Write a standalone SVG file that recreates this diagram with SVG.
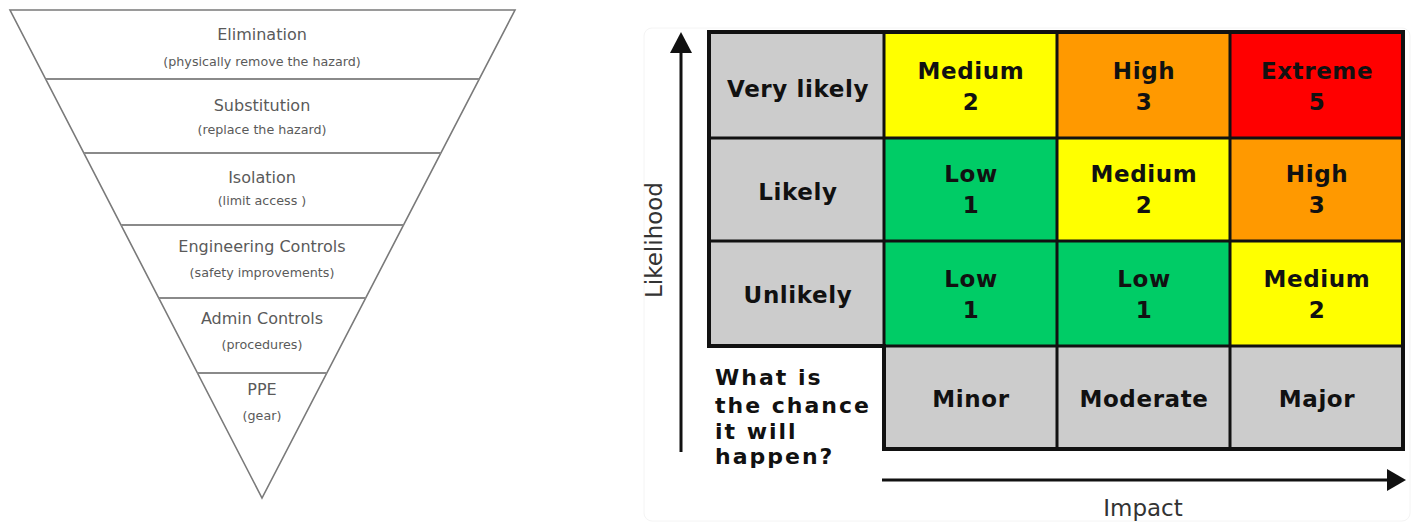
<svg xmlns="http://www.w3.org/2000/svg" width="1412" height="523" viewBox="0 0 1412 523">
<style>
.pl{fill:none;stroke:#7a7a7a;stroke-width:1.6}
.pd{stroke:#8a8a8a;stroke-width:2.2}
.pt{font-family:"DejaVu Sans",sans-serif;font-size:16px;fill:#5a5a5a;text-anchor:middle}
.ps{font-family:"DejaVu Sans",sans-serif;font-size:12.7px;fill:#5a5a5a;text-anchor:middle}
.c{stroke:#111;stroke-width:3}
.g{fill:#cccccc}.y{fill:#ffff00}.o{fill:#ff9900}.r{fill:#ff0000}.gr{fill:#00cc66}
.b{font-family:"DejaVu Sans",Verdana,sans-serif;font-weight:bold;font-size:23px;letter-spacing:0.6px;fill:#111;text-anchor:middle}
.q{font-family:"DejaVu Sans",Verdana,sans-serif;font-weight:bold;font-size:22px;fill:#111;letter-spacing:2px}
.ax{font-family:"DejaVu Sans",Verdana,sans-serif;font-size:23px;fill:#333;text-anchor:middle}
</style>
<g id="pyramid">
<polygon class="pl" points="10,10 515,10 262,498"/>
<line class="pd" x1="45.6" y1="79" x2="479.2" y2="79"/>
<line class="pd" x1="83.8" y1="153" x2="440.9" y2="153"/>
<line class="pd" x1="121" y1="225" x2="403.5" y2="225"/>
<line class="pd" x1="158.7" y1="298" x2="365.7" y2="298"/>
<line class="pd" x1="197.5" y1="373" x2="326.8" y2="373"/>
</g>
<g id="elimination"><text class="pt" x="262" y="40">Elimination</text><text class="ps" x="262" y="66">(physically remove the hazard)</text></g>
<g id="substitution"><text class="pt" x="262" y="111">Substitution</text><text class="ps" x="262" y="134">(replace the hazard)</text></g>
<g id="isolation"><text class="pt" x="262" y="183">Isolation</text><text class="ps" x="262" y="205">(limit access )</text></g>
<g id="engineering"><text class="pt" x="262" y="252">Engineering Controls</text><text class="ps" x="262" y="277">(safety improvements)</text></g>
<g id="admin"><text class="pt" x="262" y="324">Admin Controls</text><text class="ps" x="262" y="349">(procedures)</text></g>
<g id="ppe"><text class="pt" x="262" y="395">PPE</text><text class="ps" x="262" y="420">(gear)</text></g>
<rect x="644" y="28" width="766" height="493" rx="8" fill="none" stroke="#f4f4f4" stroke-width="1"/>
<g id="matrix">
<rect class="g" x="709" y="32" width="175" height="106"/>
<rect class="y" x="884" y="32" width="173" height="106"/>
<rect class="o" x="1057" y="32" width="173" height="106"/>
<rect class="r" x="1230" y="32" width="173" height="106"/>
<rect class="g" x="709" y="138" width="175" height="103"/>
<rect class="gr" x="884" y="138" width="173" height="103"/>
<rect class="y" x="1057" y="138" width="173" height="103"/>
<rect class="o" x="1230" y="138" width="173" height="103"/>
<rect class="g" x="709" y="241" width="175" height="105"/>
<rect class="gr" x="884" y="241" width="173" height="105"/>
<rect class="gr" x="1057" y="241" width="173" height="105"/>
<rect class="y" x="1230" y="241" width="173" height="105"/>
<rect class="g" x="884" y="346" width="173" height="103"/>
<rect class="g" x="1057" y="346" width="173" height="103"/>
<rect class="g" x="1230" y="346" width="173" height="103"/>
<line class="c" x1="709" y1="138" x2="1403" y2="138"/>
<line class="c" x1="709" y1="241" x2="1403" y2="241"/>
<line class="c" x1="709" y1="346" x2="1403" y2="346"/>
<line class="c" x1="884" y1="32" x2="884" y2="449"/>
<line class="c" x1="1057" y1="32" x2="1057" y2="449"/>
<line class="c" x1="1230" y1="32" x2="1230" y2="449"/>
<path d="M709,32 H1403 V449 H884 V346 H709 Z" fill="none" stroke="#111" stroke-width="4" stroke-linejoin="miter"/>
</g>
<g id="row-very-likely"><text class="b" x="798" y="97">Very likely</text>
<text class="b" x="971" y="79">Medium</text><text class="b" x="971" y="110">2</text>
<text class="b" x="1144" y="79">High</text><text class="b" x="1144" y="110">3</text>
<text class="b" x="1317" y="79">Extreme</text><text class="b" x="1317" y="110">5</text></g>
<g id="row-likely"><text class="b" x="798" y="200">Likely</text>
<text class="b" x="971" y="182">Low</text><text class="b" x="971" y="213">1</text>
<text class="b" x="1144" y="182">Medium</text><text class="b" x="1144" y="213">2</text>
<text class="b" x="1317" y="182">High</text><text class="b" x="1317" y="213">3</text></g>
<g id="row-unlikely"><text class="b" x="798" y="303">Unlikely</text>
<text class="b" x="971" y="287">Low</text><text class="b" x="971" y="318">1</text>
<text class="b" x="1144" y="287">Low</text><text class="b" x="1144" y="318">1</text>
<text class="b" x="1317" y="287">Medium</text><text class="b" x="1317" y="318">2</text></g>
<g id="row-impact"><text class="b" x="971" y="407">Minor</text>
<text class="b" x="1144" y="407">Moderate</text>
<text class="b" x="1317" y="407">Major</text></g>
<g id="question"><text class="q" x="715" y="385">What is</text><text class="q" x="715" y="413">the chance</text><text class="q" x="715" y="439">it will</text><text class="q" x="715" y="464">happen?</text></g>
<g id="connectors">
<line x1="681" y1="452" x2="681" y2="50" stroke="#111" stroke-width="3"/>
<polygon points="670,53 692,53 681,32" fill="#111"/>
<line x1="882" y1="480" x2="1390" y2="480" stroke="#111" stroke-width="3"/>
<polygon points="1387,469 1387,491 1406,480" fill="#111"/>
</g>
<g id="axis-labels">
<text class="ax" transform="translate(662,240) rotate(-90)">Likelihood</text>
<text class="ax" x="1143" y="516">Impact</text>
</g>
</svg>
